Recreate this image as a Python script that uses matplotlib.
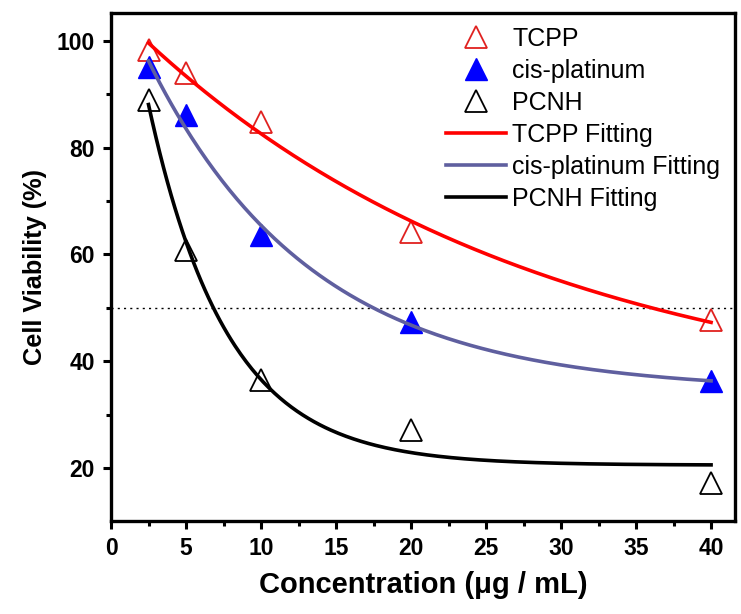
import numpy as np
import matplotlib
matplotlib.use("Agg")
import matplotlib.pyplot as plt
from matplotlib.ticker import MultipleLocator

conc = [2.5, 5, 10, 20, 40]
tcpp = [98.3, 94.0, 84.8, 64.2, 47.8]
cisplatin = [95.0, 86.1, 63.6, 47.3, 36.3]
pcnh = [88.9, 60.8, 36.5, 27.1, 17.2]
ic50_level = 50
x_ticks = [0, 5, 10, 15, 20, 25, 30, 35, 40]
y_ticks = [20, 40, 60, 80, 100]


def exp_decay_fit(x, y):
    x = np.asarray(x, float)
    y = np.asarray(y, float)
    best = None
    for t in np.linspace(0.5, 200, 8000):
        M = np.column_stack([np.ones_like(x), np.exp(-x / t)])
        coef, *_ = np.linalg.lstsq(M, y, rcond=None)
        sse = np.sum((M @ coef - y) ** 2)
        if best is None or sse < best[0]:
            best = (sse, coef[0], coef[1], t)
    _, y0, A, t = best
    return lambda xx: y0 + A * np.exp(-np.asarray(xx) / t)


plt.rcParams['font.family'] = ['Liberation Sans', 'DejaVu Sans']

fig = plt.figure(figsize=(7.41, 6.14), dpi=100)
ax = fig.add_axes([0.1498, 0.1515, 0.992 - 0.1498, 0.9788 - 0.1515])

xf = np.linspace(min(conc), max(conc), 300)
ax.axhline(ic50_level, color='black', lw=1.0, ls=(0, (1.5, 3)), zorder=1)

ax.plot(conc, tcpp, ls='none', marker='^', ms=16, mfc='none', mec='#e0211f', mew=1.3,
        label='TCPP', zorder=3)
ax.plot(conc, cisplatin, ls='none', marker='^', ms=16, mfc='#0000ff', mec='#0000ff', mew=1.0,
        label='cis-platinum', zorder=3)
ax.plot(conc, pcnh, ls='none', marker='^', ms=16, mfc='none', mec='black', mew=1.3,
        label='PCNH', zorder=3)

ax.plot(xf, exp_decay_fit(conc, tcpp)(xf), color='#ff0000', lw=2.6, label='TCPP Fitting', zorder=4)
ax.plot(xf, exp_decay_fit(conc, cisplatin)(xf), color='#5f5f9f', lw=2.6, label='cis-platinum Fitting', zorder=4)
ax.plot(xf, exp_decay_fit(conc, pcnh)(xf), color='black', lw=2.6, label='PCNH Fitting', zorder=4)

ax.set_xlim(0, 41.6)
ax.set_ylim(10.1, 105.2)
ax.set_xticks(x_ticks)
ax.set_yticks(y_ticks)
ax.xaxis.set_minor_locator(MultipleLocator(2.5))
ax.yaxis.set_minor_locator(MultipleLocator(10))
ax.tick_params(which='major', direction='out', length=6, width=2.2, labelsize=16.5, pad=5.5,
               top=False, right=False)
ax.tick_params(which='minor', direction='out', length=3.5, width=2.2, top=False, right=False)
for lab in ax.get_xticklabels() + ax.get_yticklabels():
    lab.set_fontweight('bold')
for s in ax.spines.values():
    s.set_linewidth(2.4)

ax.set_xlabel('Concentration (μg / mL)', fontsize=21, fontweight='bold', labelpad=8)
ax.set_ylabel('Cell Viability (%)', fontsize=18.3, fontweight='bold', labelpad=7)

leg = ax.legend(loc='upper left', bbox_to_anchor=(0.509, 1.0075), frameon=False, fontsize=18,
                handlelength=2.4, handletextpad=0.25, labelspacing=0.32, borderaxespad=0.3)

fig.savefig('out.png', dpi=100)
